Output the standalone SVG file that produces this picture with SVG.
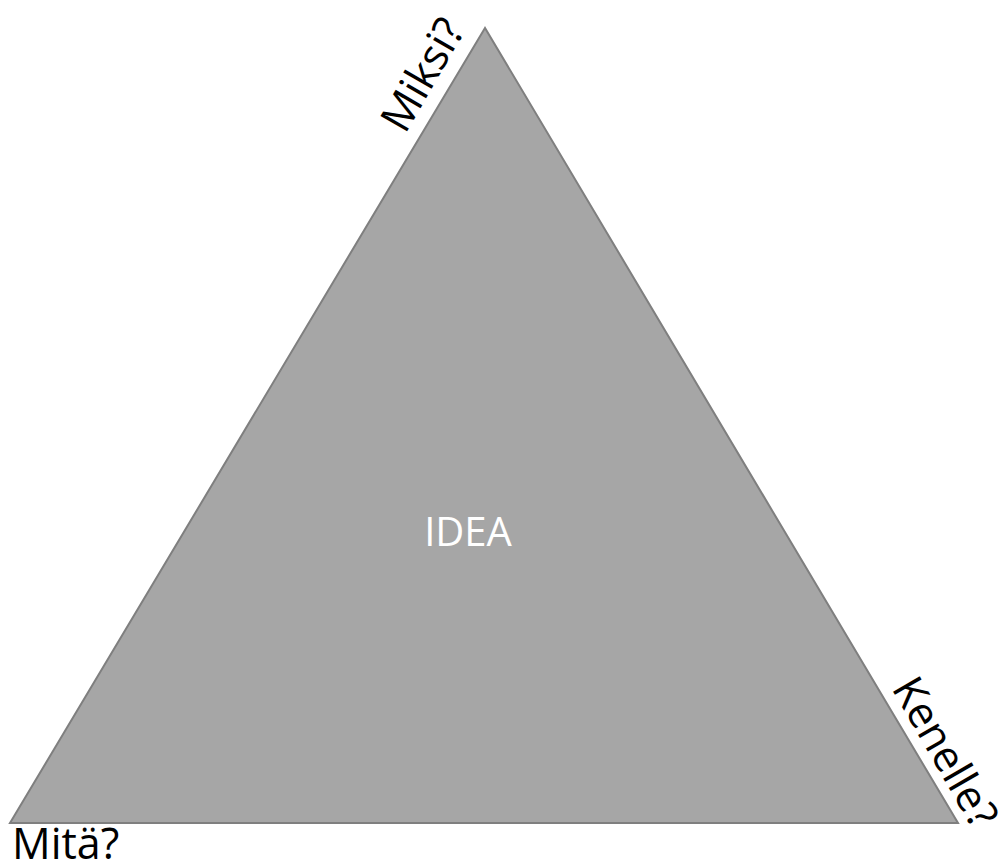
<svg xmlns="http://www.w3.org/2000/svg" width="1001" height="865" viewBox="0 0 1001 865">
<style>
.lbl{font-family:"Open Sans","Noto Sans",sans-serif;font-size:43px;fill:#000}
.idea{font-family:"Open Sans","Noto Sans",sans-serif;font-size:40px;fill:#fff}
</style>
<rect width="1001" height="865" fill="#fff"/>
<g id="triangle">
<polygon points="485,28 10,823 958,823" fill="#a6a6a6" stroke="#7f7f7f" stroke-width="2"/>
<text class="idea" x="468" y="546" text-anchor="middle">IDEA</text>
</g>
<g id="miksi"><text class="lbl" transform="translate(405,135) rotate(-60)">Miksi?</text></g>
<g id="kenelle"><text class="lbl" transform="translate(891,688) rotate(60)">Kenelle?</text></g>
<g id="mita"><text class="lbl" x="12" y="859">Mitä?</text></g>
</svg>
